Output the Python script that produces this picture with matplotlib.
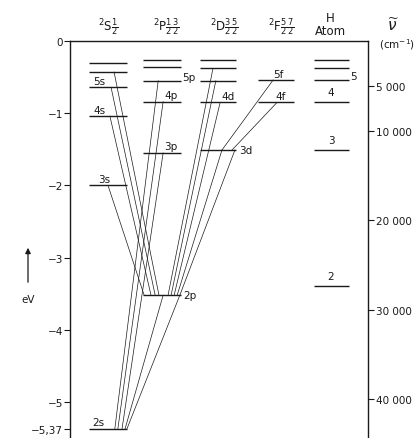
"""Grotrian diagram of lithium with the hydrogen levels for comparison."""
import matplotlib
matplotlib.use("Agg")
import matplotlib.pyplot as plt

EV_TO_CM = 8065.5

# term energies (eV, ionisation limit = 0)
s_levels = [-5.37, -2.00, -1.04, -0.64, -0.43, -0.30]   # 2s .. 7s
p_levels = [-3.52, -1.55, -0.84, -0.55, -0.36, -0.27]   # 2p .. 7p
d_levels = [-1.51, -0.85, -0.55, -0.38, -0.27]          # 3d .. 7d
f_levels = [-0.85, -0.54]                               # 4f, 5f
h_levels = [-3.40, -1.51, -0.84, -0.54, -0.38, -0.27]   # n = 2 .. 7

headers = [r"$^2\mathrm{S}\frac{1}{2}$", r"$^2\mathrm{P}\frac{1}{2}\frac{3}{2}$",
           r"$^2\mathrm{D}\frac{3}{2}\frac{5}{2}$", r"$^2\mathrm{F}\frac{5}{2}\frac{7}{2}$",
           "H\nAtom"]

ev_ticks = [0, -1, -2, -3, -4, -5, -5.37]
ev_labels = ["0", "−1", "−2", "−3", "−4", "−5", "−5,37"]
cm_ticks = [5000, 10000, 20000, 30000, 40000]
cm_labels = ["5 000", "10 000", "20 000", "30 000", "40 000"]

# (upper column, index, position in column) -> (lower column, index, position)
transitions = [
    ("S", 1, 0.50, "P", 0, 0.03), ("S", 2, 0.55, "P", 0, 0.21),
    ("S", 3, 0.58, "P", 0, 0.32), ("S", 4, 0.66, "P", 0, 0.42),
    ("P", 3, 0.40, "S", 0, 0.68), ("P", 2, 0.53, "S", 0, 0.76),
    ("P", 1, 0.53, "S", 0, 0.87), ("P", 0, 0.53, "S", 0, 0.95),
    ("P", 0, 0.97, "S", 0, 1.00),
    ("D", 3, 0.36, "P", 0, 0.66), ("D", 2, 0.44, "P", 0, 0.74),
    ("D", 1, 0.56, "P", 0, 0.82), ("D", 0, 0.61, "P", 0, 0.90),
    ("D", 0, 0.97, "P", 0, 0.97),
    ("F", 1, 0.42, "D", 0, 0.61), ("F", 0, 0.53, "D", 0, 0.89),
]

LEVELS = {"S": s_levels, "P": p_levels, "D": d_levels, "F": f_levels, "H": h_levels}
COLS = {"S": (89, 127), "P": (143, 181), "D": (200, 236), "F": (258, 294), "H": (314, 349)}
INK = "#1a1a1a"

W, H = 416, 439
top_px, px_per_ev = 42, 72.2
ybot = -(H - top_px) / px_per_ev

fig = plt.figure(figsize=(W / 100, H / 100), dpi=100)
ax = fig.add_axes([70 / W, 0, 298 / W, (H - top_px) / H])
ax.set_xlim(70, 368)
ax.set_ylim(ybot, 0)
ax.spines["bottom"].set_visible(False)
for sp in ("left", "right", "top"):
    ax.spines[sp].set_linewidth(1.0)
    ax.spines[sp].set_color(INK)
ax.set_xticks([])
ax.set_yticks(ev_ticks)
ax.set_yticklabels(ev_labels, fontsize=7.5, color=INK)
ax.tick_params(axis="y", direction="out", length=4, width=0.8, pad=1, color=INK)

ax2 = ax.twinx()
ax2.set_ylim(ybot * EV_TO_CM, 0)
ax2.set_yticks([-w for w in cm_ticks])
ax2.set_yticklabels(cm_labels, fontsize=7.5, color=INK)
ax2.tick_params(axis="y", direction="out", length=4, width=0.8, pad=2, color=INK)
for sp in ax2.spines.values():
    sp.set_visible(False)

def xpos(col, frac):
    a, b = COLS[col]
    return a + frac * (b - a)

# levels
for col, lev in LEVELS.items():
    a, b = COLS[col]
    for e in lev:
        ax.plot([a, b], [e, e], color=INK, lw=1.0, solid_capstyle="butt")

# transitions
for uc, ui, uf, lc, li, lf in transitions:
    ax.plot([xpos(uc, uf), xpos(lc, lf)], [LEVELS[uc][ui], LEVELS[lc][li]],
            color=INK, lw=0.5)

fs = 7.5
above = dict(fontsize=fs, color=INK, va="bottom", ha="left")
right = dict(fontsize=fs, color=INK, va="center", ha="left")
ax.text(93, s_levels[3] + 0.02, "5s", **above)
ax.text(93, s_levels[2] + 0.02, "4s", **above)
ax.text(98, s_levels[1] + 0.02, "3s", **above)
ax.text(92, s_levels[0] + 0.02, "2s", **above)
ax.text(182, p_levels[3] + 0.05, "5p", **right)
ax.text(164, p_levels[2] + 0.02, "4p", **above)
ax.text(164, p_levels[1] + 0.02, "3p", **above)
ax.text(183, p_levels[0] + 0.0, "2p", **right)
ax.text(221, d_levels[1] + 0.02, "4d", **above)
ax.text(239, d_levels[0], "3d", **right)
ax.text(273, f_levels[1] + 0.02, "5f", **above)
ax.text(275, f_levels[0] + 0.02, "4f", **above)
ax.text(350, h_levels[3] + 0.05, "5", **right)
for n, e in zip([4, 3, 2], [h_levels[2], h_levels[1], h_levels[0]]):
    ax.text(331, e + 0.07, str(n), fontsize=fs, color=INK, ha="center", va="bottom")

# column headers
hx = [108, 166, 224, 281, 330]
for x, t in zip(hx, headers):
    ax.text(x, 0.06, t, fontsize=8.5, color=INK, ha="center", va="bottom",
            clip_on=False, linespacing=1.0)

fig.text(393 / W, 1 - 26 / H, r"$\widetilde{\nu}$", fontsize=11, color=INK,
         ha="center", va="center")
fig.text(397 / W, 1 - 45 / H, r"(cm$^{-1}$)", fontsize=7.5, color=INK,
         ha="center", va="center")

# eV arrow
fig.text(28 / W, 1 - 300 / H, "eV", fontsize=7.5, color=INK, ha="center", va="center")
fig.patches.append(matplotlib.patches.FancyArrowPatch(
    (28 / W, 1 - 286 / H), (28 / W, 1 - 246 / H), transform=fig.transFigure,
    arrowstyle="-|>", mutation_scale=8, lw=0.9, color=INK))

fig.savefig("out.png", dpi=100)
print("saved out.png")
